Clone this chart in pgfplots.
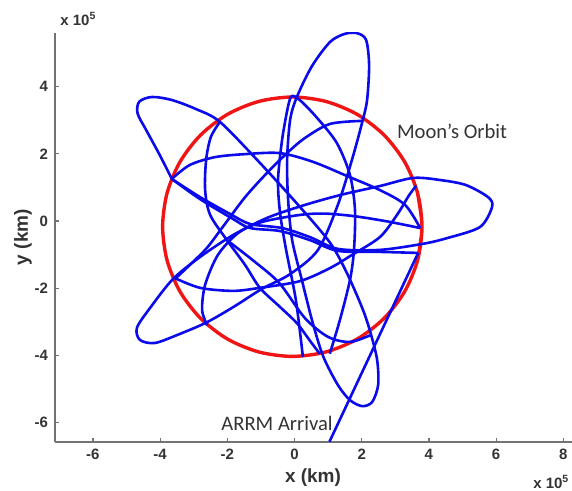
\documentclass[border=0pt]{standalone}
\usepackage{fontspec}
\setmainfont{Liberation Sans}
\newfontfamily\calibri{Carlito}
\usepackage{pgfplots}
\pgfplotsset{compat=1.18}

\definecolor{trajblue}{RGB}{10,10,235}
\definecolor{moonred}{RGB}{240,20,20}

\begin{document}
\begin{tikzpicture}
\begin{axis}[
  x=16.8pt, y=16.8pt,
  xmin=-7.13, xmax=8.25, ymin=-6.57, ymax=5.6,
  axis x line*=bottom, axis y line*=left,
  axis line style={black!55, line width=0.8pt, -},
  xtick={-6,-4,...,8}, ytick={-6,-4,...,4},
  tick align=inside, major tick length=2pt,
  tick style={black!55, line width=0.6pt},
  tick label style={font=\bfseries\fontsize{7.5}{8}\selectfont, text=black!80},
  /pgf/number format/assume math mode=true,
  clip mode=individual,
  traj/.style={trajblue, line width=1.3pt, no marks, solid},
]

% Moon's orbit
\addplot[moonred, line width=1.7pt, smooth, no marks] coordinates {
  (3.663,-1.169) (3.795,-0.17) (3.663,0.829) (3.278,1.76) (2.664,2.559)
  (1.865,3.173) (0.934,3.558) (-0.065,3.69) (-1.064,3.558) (-1.995,3.173)
  (-2.794,2.559) (-3.408,1.76) (-3.793,0.829) (-3.925,-0.17) (-3.793,-1.169)
  (-3.408,-2.1) (-2.794,-2.899) (-1.995,-3.513) (-1.064,-3.898) (-0.065,-4.03)
  (0.934,-3.898) (1.865,-3.513) (2.664,-2.899) (3.278,-2.1) (3.663,-1.169)
  (3.795,-0.17) (3.663,0.829)
};

% main rosette: flyby at the lower side of the upper-left petal
\addplot[traj, smooth] coordinates {
  (-3.65,1.25) (-4.02,1.98) (-4.40,2.68) (-4.67,3.20)
  (-4.62,3.55) (-4.24,3.69) (-3.65,3.60) (-2.93,3.33) (-2.22,2.95) (-1.03,1.73)
  (0.16,0.42) (1.06,-0.65) (1.56,-1.55) (2.04,-2.65) (2.28,-3.39) (2.46,-4.14)
  (2.49,-4.88) (2.31,-5.39) (2.01,-5.51) (1.65,-5.33) (1.29,-4.88) (0.85,-4.02)
  (0.52,-2.95) (0.22,-1.76) (-0.07,-0.57) (-0.19,0.63) (-0.22,1.82) (-0.13,3.01)
  (0.07,3.69) (0.52,4.61) (1.06,5.33) (1.50,5.57) (1.86,5.59) (2.13,5.39)
  (2.22,4.64) (2.16,3.60) (2.01,2.92) (1.71,1.82) (1.29,0.48) (0.70,-0.86)
  (-0.13,-1.58) (-0.97,-2.02) (-1.77,-2.53) (-2.60,-3.01) (-3.41,-3.36) (-4.15,-3.63)
  (-4.60,-3.54) (-4.69,-3.18) (-4.30,-2.59) (-3.62,-1.73) (-2.81,-1.07) (-1.83,-0.42)
  (-0.82,0.09) (0.22,0.45) (1.35,0.77) (2.54,1.04) (3.53,1.28) (4.33,1.22)
  (5.10,1.07) (5.76,0.71) (5.88,0.42) (5.52,-0.18) (4.54,-0.51) (3.82,-0.68)
  (2.54,-0.86) (1.29,-0.83) (0.46,-0.48) (-0.37,-0.21) (-1.32,-0.09) (-1.92,0.21)
  (-2.81,0.71) (-3.65,1.25)
};

% inner loop, top
\addplot[traj, smooth] coordinates {
  (0.25,-4.05) (0.04,-2.35) (-0.25,-0.86) (-0.43,0.24) (-0.49,1.22) (-0.37,2.41)
  (-0.19,3.42) (-0.07,3.72) (0.19,3.57) (0.67,3.07) (1.26,2.32) (1.65,1.37)
  (1.80,0.33) (1.77,-0.86) (1.65,-1.76) (1.35,-2.95) (1.05,-3.95)
};

% inner loop, left
\addplot[traj, smooth] coordinates {
  (-2.22,2.95) (-2.49,2.50) (-2.63,1.82) (-2.66,0.92) (-2.51,0.18) (-2.01,-0.57)
  (-1.47,-1.31) (-1.03,-1.99) (-0.43,-2.56) (0.07,-3.04) (0.45,-3.55) (0.75,-3.95)
};

% upper chord, flyby on the right, back through the centre to the lower left
\addplot[traj, smooth] coordinates {
  (-3.62,1.28) (-3.11,1.67) (-2.37,1.90) (-1.47,1.99) (-0.43,2.02) (0.55,1.76)
  (1.56,1.34) (2.54,0.92) (3.29,0.48) (3.74,-0.21)
};
\addplot[traj, smooth] coordinates {
  (3.74,-0.21) (2.80,-0.02) (1.80,0.14) (0.90,0.22) (0.16,0.18) (-0.97,-0.03)
  (-1.68,-0.36) (-2.28,-1.01) (-2.66,-1.90) (-2.75,-2.65) (-2.60,-3.10)
};

% diagonal chord
\addplot[traj, smooth] coordinates {
  (2.04,2.98) (1.06,2.89) (0.31,2.47) (-0.19,2.05) (-0.79,1.46) (-1.47,0.71)
  (-2.16,-0.21) (-2.66,-0.86) (-3.53,-1.70)
};

% lower chord
\addplot[traj, smooth] coordinates {
  (-3.56,-1.70) (-2.81,-1.99) (-1.83,-2.08) (-1.03,-1.99) (0.16,-1.79) (1.06,-1.40)
  (1.71,-1.01) (2.54,-0.48) (3.05,0.18) (3.40,0.75) (3.62,1.05)
};

% bottom arc
\addplot[traj, smooth] coordinates {
  (-2.01,-0.57) (-1.20,-1.20) (-0.45,-1.85) (0.31,-2.89) (1.00,-3.45) (1.65,-3.60)
  (2.28,-3.39)
};

% ARRM arrival
\addplot[traj, sharp plot] coordinates {
  (1.04,-6.57) (3.68,-0.95)
};
\addplot[traj, smooth] coordinates {
  (3.68,-0.95) (2.54,-0.92) (1.29,-0.89) (0.46,-0.57) (-0.43,-0.30) (-1.32,-0.21)
  (-1.83,0.06) (-2.81,0.65) (-3.65,1.25)
};

\node[font=\calibri\fontsize{10.3}{12}\selectfont, text=black!80] at (axis cs:4.69,2.66) {Moon’s Orbit};
\node[font=\calibri\fontsize{10.3}{12}\selectfont, text=black!80] at (axis cs:-0.52,-6.02) {ARRM Arrival};

\node[font=\bfseries\fontsize{9.5}{11}\selectfont, text=black!80] at (axis cs:0.55,-7.65) {x (km)};
\node[font=\bfseries\fontsize{9.5}{11}\selectfont, text=black!80, rotate=90] at (axis cs:-8.08,-0.48) {y (km)};
\node[font=\bfseries\fontsize{7.5}{8}\selectfont, text=black!80, anchor=west] at (axis cs:-7.18,6.01) {x 10\textsuperscript{5}};
\node[font=\bfseries\fontsize{7.5}{8}\selectfont, text=black!80, anchor=east, inner xsep=1pt] at (axis cs:8.25,-7.76) {x 10\textsuperscript{5}};

\coordinate (bbsw) at (axis cs:-8.765,-8.036);
\coordinate (bbne) at (axis cs:8.259,6.577);
\end{axis}
\pgfresetboundingbox
\useasboundingbox (bbsw) rectangle (bbne);
\end{tikzpicture}
\end{document}
